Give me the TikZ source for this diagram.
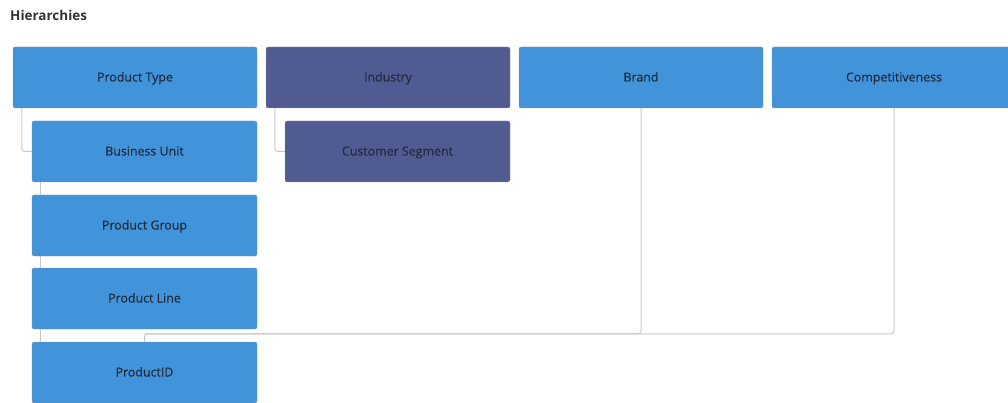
\documentclass[tikz,border=0pt]{standalone}
\usepackage{fontspec}
\setmainfont{Open Sans}
\newfontfamily\hierfont[FakeBold=0.4]{Open Sans}
\usetikzlibrary{positioning}
\definecolor{hierblue}{RGB}{65,148,218}
\definecolor{hierpurple}{RGB}{80,92,145}
\definecolor{hiertext}{RGB}{34,44,62}
\definecolor{hierline}{RGB}{200,200,200}
\tikzset{
    hiertitle/.style = {font=\bfseries\fontsize{13.5}{15}\selectfont, text=black!80, inner sep=0pt},
    hierbox/.style = {draw=black!40, fill=hierblue, rounded corners=2pt, minimum width=244pt,
        minimum height=61pt, inner sep=0pt, text=hiertext, text height=10pt, text depth=2pt,
        font=\hierfont\fontsize{12.4}{14}\selectfont},
    hiersub/.style = {hierbox, minimum width=225pt},
    hierdark/.style = {fill=hierpurple},
    hierlink/.style = {draw=hierline, line width=1pt, rounded corners=3pt}
}

\begin{document}
\begin{tikzpicture}[x=1pt,y=-1pt]
                \useasboundingbox (0,0) rectangle (1008,403);
                \clip (0,0) rectangle (1008,403);

                \node[hiertitle, anchor=west] (title) at (10,15) {Hierarchies};

                % top row
                \node[hierbox] (ptype) at (135,77.5) {Product Type};
                \node[hierbox, hierdark] (industry) at (388,77.5) {Industry};
                \node[hierbox] (brand) at (641,77.5) {Brand};
                \node[hierbox] (comp) at (894,77.5) {Competitiveness};

                % levels
                \node[hiersub] (bunit) at (144.5,151.5) {Business Unit};
                \node[hiersub, hierdark] (cseg) at (397.5,151.5) {Customer Segment};
                \node[hiersub] (pgroup) at (144.5,225.5) {Product Group};
                \node[hiersub] (pline) at (144.5,298.5) {Product Line};
                \node[hiersub] (pid) at (144.5,372.5) {ProductID};

                % links
                \draw[hierlink] ([xshift=9pt]ptype.south west) |- (bunit.west);
                \draw[hierlink] ([xshift=9pt]industry.south west) |- (cseg.west);
                \draw[hierlink] ([xshift=9pt]bunit.south west) -- ([xshift=9pt]pgroup.north west);
                \draw[hierlink] ([xshift=9pt]pgroup.south west) -- ([xshift=9pt]pline.north west);
                \draw[hierlink] ([xshift=9pt]pline.south west) -- ([xshift=9pt]pid.north west);
                \draw[hierlink] (brand.south) |- ([yshift=8pt]pid.north) -- (pid.north);
                \draw[hierlink] (comp.south) |- ([yshift=8pt]pid.north);

\end{tikzpicture}
\end{document}
